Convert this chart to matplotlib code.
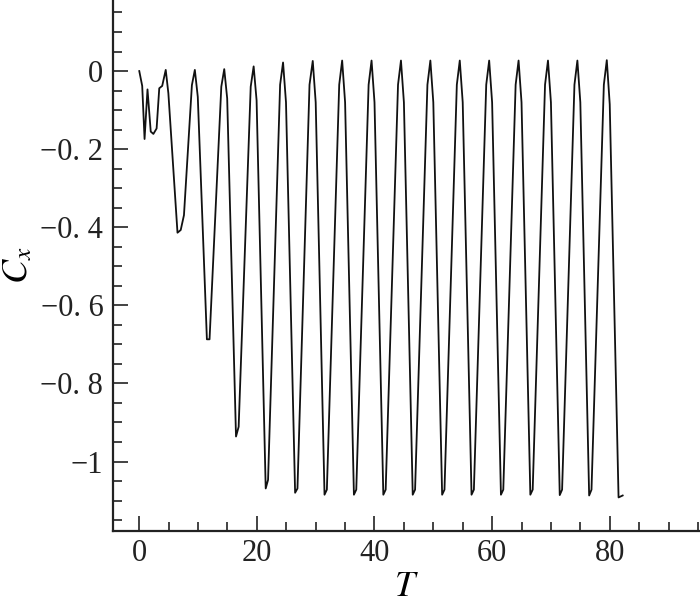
import matplotlib
matplotlib.use("Agg")
import matplotlib.pyplot as plt
from matplotlib.ticker import MultipleLocator, FixedLocator, FixedFormatter


# vertices of the Cx(T) curve
t = [0.0, 0.5, 0.9, 1.4, 1.95, 2.4, 2.95, 3.4, 3.9, 4.5,
     4.95, 6.5, 7.05, 7.6, 8.95, 9.45,
     9.95, 11.5, 11.95, 13.95, 14.45,
     14.95, 16.45, 16.9, 18.95, 19.45,
     19.95, 21.5, 21.9, 23.95, 24.45,
     24.95, 26.5, 26.9, 28.95, 29.5,
     30.0, 31.5, 31.9, 34.0, 34.5,
     35.0, 36.5, 36.9, 39.0, 39.5,
     40.0, 41.5, 41.9, 44.0, 44.5,
     45.0, 46.5, 46.9, 49.0, 49.5,
     50.0, 51.5, 51.9, 54.0, 54.5,
     55.0, 56.5, 56.9, 59.0, 59.5,
     60.0, 61.5, 61.9, 64.0, 64.5,
     65.0, 66.5, 66.9, 69.0, 69.5,
     70.0, 71.5, 71.9, 74.0, 74.5,
     75.0, 76.5, 76.9, 79.0, 79.5,
     80.0, 81.5, 82.2]

cx = [0.0, -0.038, -0.174, -0.047, -0.155, -0.161, -0.147, -0.044, -0.038, 0.003,
      -0.057, -0.414, -0.407, -0.369, -0.036, 0.003,
      -0.066, -0.687, -0.687, -0.040, 0.005,
      -0.070, -0.936, -0.911, -0.040, 0.012,
      -0.075, -1.069, -1.047, -0.035, 0.022,
      -0.080, -1.080, -1.069, -0.035, 0.026,
      -0.080, -1.085, -1.072, -0.035, 0.027,
      -0.080, -1.085, -1.072, -0.035, 0.027,
      -0.080, -1.085, -1.072, -0.035, 0.027,
      -0.080, -1.085, -1.072, -0.035, 0.027,
      -0.080, -1.085, -1.072, -0.035, 0.027,
      -0.080, -1.085, -1.072, -0.035, 0.027,
      -0.080, -1.085, -1.072, -0.035, 0.027,
      -0.080, -1.085, -1.072, -0.035, 0.027,
      -0.080, -1.086, -1.072, -0.035, 0.027,
      -0.080, -1.087, -1.072, -0.035, 0.028,
      -0.085, -1.092, -1.087]

y_ticks = [0, -0.2, -0.4, -0.6, -0.8, -1]
y_labels = ["0", "\u22120. 2", "\u22120. 4", "\u22120. 6", "\u22120. 8", "\u22121"]


plt.rcParams["font.family"] = ["Liberation Serif", "DejaVu Serif"]
plt.rcParams["mathtext.fontset"] = "stix"

fig = plt.figure(figsize=(7, 6.08), dpi=100)
ax = fig.add_axes([0.1614, 0.1266, 0.8386, 0.8734])

ax.plot(t, cx, color="#111111", linewidth=1.3)

ax.set_xlim(-4.47, 95.35)
ax.set_ylim(-1.178, 0.182)

ax.spines["top"].set_visible(False)
ax.spines["right"].set_visible(False)
for side in ("left", "bottom"):
    ax.spines[side].set_linewidth(1.6)
    ax.spines[side].set_color("#222222")

ax.xaxis.set_major_locator(MultipleLocator(20))
ax.xaxis.set_minor_locator(MultipleLocator(5))
ax.yaxis.set_major_locator(FixedLocator(y_ticks))
ax.yaxis.set_major_formatter(FixedFormatter(y_labels))
ax.yaxis.set_minor_locator(MultipleLocator(0.05))

ax.tick_params(which="both", direction="in", color="#222222", width=1.2,
               top=False, right=False)
ax.tick_params(which="major", length=11, labelsize=22, labelcolor="#222222")
ax.tick_params(which="minor", length=6.5)
ax.tick_params(axis="x", which="major", pad=6)
ax.tick_params(axis="y", which="major", pad=7)

ax.set_xlabel("$T$", fontsize=26, labelpad=2)
ax.set_ylabel("$C_x$", fontsize=26, labelpad=4)

fig.savefig("out.png", dpi=100)
